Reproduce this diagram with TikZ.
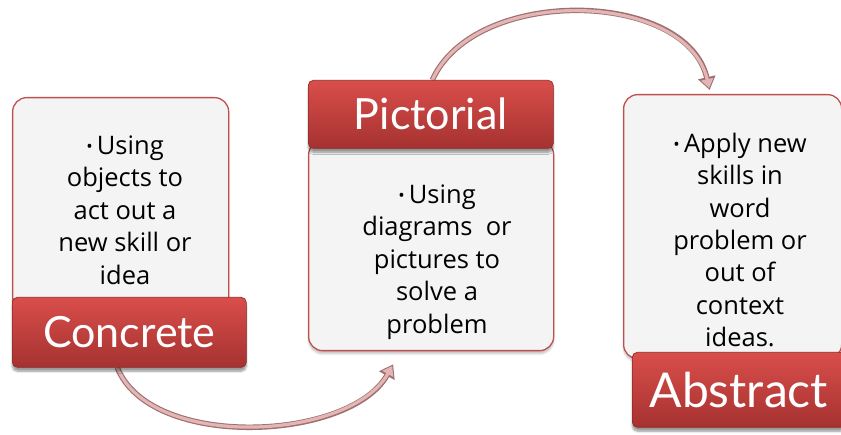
\documentclass[tikz,border=0pt]{standalone}
\usepackage{fontspec}
\setmainfont{Lato}
\newfontfamily\bodyfont{Open Sans}
\usetikzlibrary{arrows.meta,shadows.blur,backgrounds,calc}
\definecolor{tabtop}{HTML}{D94E4B}
\definecolor{tabbot}{HTML}{A53230}
\definecolor{tabedge}{HTML}{8E2826}
\definecolor{cardfill}{HTML}{F4F4F4}
\definecolor{cardedge}{HTML}{C0504D}
\definecolor{arrdark}{HTML}{A07070}
\definecolor{arrlight}{HTML}{E4B5B5}
\newcommand{\smbul}{\raisebox{1.5pt}{\fontsize{17}{17}\selectfont\textbullet}\,}
\begin{document}
\begin{tikzpicture}[x=1pt,y=-1pt,
 card/.style={draw=cardedge, line width=1.3pt, fill=cardfill, rounded corners=14pt, inner sep=0pt,
   blur shadow={shadow xshift=0pt,shadow yshift=-3pt,shadow blur steps=6,shadow opacity=25}},
 tabbox/.style={draw=tabedge, line width=0.6pt, rounded corners=5pt, top color=tabtop, bottom color=tabbot,
   text=white, inner sep=0pt,
   blur shadow={shadow xshift=0pt,shadow yshift=-4pt,shadow blur steps=6,shadow opacity=40}},
 body/.style={align=center, font=\bodyfont\fontsize{25.5}{32.4}\selectfont, text=black, inner sep=0pt},
 arrback/.style={draw=arrdark, line width=5.5pt, -{Triangle[length=13pt,width=17pt]}},
 arrfront/.style={draw=arrlight, line width=3.2pt, -{Triangle[length=9pt,width=12pt]}, shorten >=2pt}
]
\useasboundingbox (0,0) rectangle (841,435);
% cards
\node[card, minimum width=216pt, minimum height=218pt, anchor=north west] (ccard) at (12,97) {};
\node[card, minimum width=245pt, minimum height=210pt, anchor=north west] (pcard) at (308,140) {};
\node[card, minimum width=218pt, minimum height=264pt, anchor=north west] (acard) at (623,94) {};
% body texts
\node[body] (ctext) at (125,210) {\smbul Using\\objects to\\act out a\\new skill or\\idea};
\node[body] (ptext) at (437,262) {\smbul Using\\diagrams~~or\\pictures to\\solve a\\problem};
\node[body] (atext) at (740,240) {\smbul Apply new\\skills in\\word\\problem or\\out of\\context\\ideas.};
% tabs
\node[tabbox, minimum width=234pt, minimum height=70pt, anchor=north west,
  font=\fontsize{43}{43}\selectfont] (ctab) at (12,297) {Concrete};
\node[tabbox, minimum width=245pt, minimum height=68pt, anchor=north west,
  font=\fontsize{43}{43}\selectfont] (ptab) at (308,80) {Pictorial};
\node[tabbox, minimum width=213pt, minimum height=75pt, anchor=north west,
  font=\fontsize{48}{48}\selectfont] (atab) at (632,352) {Abstract};
% arrows
\begin{scope}[on background layer]
\coordinate (b1) at ([xshift=-12pt]ctab.south);
\coordinate (b2) at ([xshift=-38pt,yshift=-13pt]pcard.south);
\coordinate (t1) at ([xshift=1.5pt]ptab.north);
\coordinate (t2) at ([xshift=-23pt,yshift=4pt]acard.north);
\draw[arrback] (b1) .. controls +(33,83) and +(-43,77) .. (b2);
\draw[arrfront] (b1) .. controls +(33,83) and +(-43,77) .. (b2);
\draw[arrback] (t1) .. controls +(43,-95) and +(-23,-100) .. (t2);
\draw[arrfront] (t1) .. controls +(43,-95) and +(-23,-100) .. (t2);
\end{scope}
\end{tikzpicture}
\end{document}
